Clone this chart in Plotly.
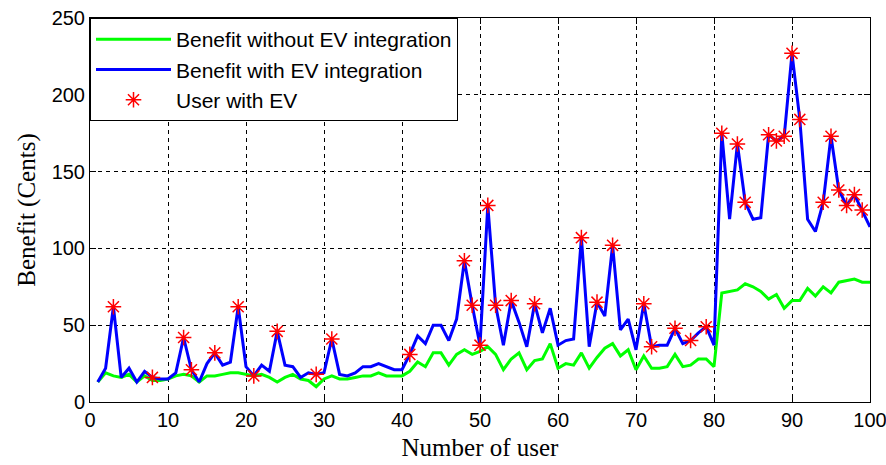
import plotly.graph_objects as go

users = list(range(1, 101))

benefit_without_ev = [
    13, 19, 17, 16, 18, 13, 17, 14, 14, 15,
    17, 18, 17, 13, 17, 17, 18, 19, 19, 18,
    17, 18, 16, 13, 16, 18, 15, 14, 10, 15,
    17, 15, 15, 16, 17, 17, 19, 17, 17, 17,
    20, 26, 23, 32, 32, 24, 31, 34, 31, 33,
    36, 31, 21, 28, 32, 21, 27, 28, 38, 22,
    25, 24, 32, 22, 29, 35, 38, 30, 34, 21,
    30, 22, 22, 23, 31, 23, 24, 28, 28, 23,
    71, 72, 73, 77, 75, 72, 67, 70, 61, 66,
    66, 74, 69, 75, 71, 78, 79, 80, 78, 78,
]

benefit_with_ev = [
    13, 22, 62, 16, 22, 13, 20, 16, 15, 15,
    19, 42, 21, 13, 25, 32, 24, 26, 62, 23,
    17, 24, 20, 46, 24, 23, 16, 19, 18, 19,
    41, 18, 17, 19, 23, 23, 25, 23, 21, 21,
    31, 43, 38, 50, 50, 40, 54, 92, 63, 37,
    128, 63, 37, 66, 52, 36, 64, 45, 61, 37,
    40, 41, 107, 36, 65, 56, 102, 47, 54, 34,
    64, 36, 37, 37, 48, 38, 40, 45, 49, 37,
    175, 119, 168, 130, 119, 120, 174, 170, 173, 227,
    184, 119, 111, 130, 173, 138, 128, 135, 125, 114,
]

ev_users = [3, 8, 12, 13, 16, 19, 21, 24, 29, 31, 41, 48, 49, 50, 51, 52,
            54, 57, 63, 65, 67, 71, 72, 75, 77, 79, 81, 83, 84, 87, 88, 89,
            90, 91, 94, 95, 96, 97, 98, 99]
ev_values = [benefit_with_ev[u - 1] for u in ev_users]

x_ticks = list(range(0, 101, 10))
y_ticks = list(range(0, 251, 50))

fig = go.Figure()
fig.add_trace(go.Scatter(x=users, y=benefit_without_ev, mode="lines",
                         name="Benefit without EV integration",
                         line=dict(color="#00ff00", width=3)))
fig.add_trace(go.Scatter(x=users, y=benefit_with_ev, mode="lines",
                         name="Benefit with EV integration",
                         line=dict(color="#0000ff", width=3)))
fig.add_trace(go.Scatter(x=ev_users, y=ev_values, mode="markers",
                         name="User with EV",
                         marker=dict(symbol="asterisk-open", size=13,
                                     color="#ff0000",
                                     line=dict(color="#ff0000", width=1.5))))

tick_font = dict(family="Liberation Sans, Arial, sans-serif", size=20, color="#000000")
title_font = dict(family="Liberation Serif, Times New Roman, serif", size=25, color="#000000")

axis_common = dict(
    showline=True, linecolor="#000000", linewidth=1, mirror="ticks",
    ticks="inside", ticklen=6, tickcolor="#000000",
    showgrid=True, gridcolor="#000000", gridwidth=1, griddash="4px,4px",
    zeroline=False, tickfont=tick_font, ticklabeloverflow="allow",
)

fig.update_xaxes(range=[0, 100], tickvals=x_ticks,
                 title=dict(text="Number of user", font=title_font, standoff=8),
                 **axis_common)
fig.update_yaxes(range=[0, 250], tickvals=y_ticks,
                 title=dict(text="Benefit (Cents)", font=title_font, standoff=8),
                 **axis_common)

fig.update_layout(
    width=886, height=465,
    margin=dict(l=90, r=16, t=18, b=63, autoexpand=False),
    paper_bgcolor="#ffffff", plot_bgcolor="#ffffff",
    legend=dict(x=0, y=1, xanchor="left", yanchor="top",
                bgcolor="#ffffff", bordercolor="#000000", borderwidth=1,
                font=dict(family="Liberation Sans, Arial, sans-serif", size=21, color="#000000"),
                itemwidth=75, tracegroupgap=0),
    showlegend=True,
)

fig.write_html("out.html")
